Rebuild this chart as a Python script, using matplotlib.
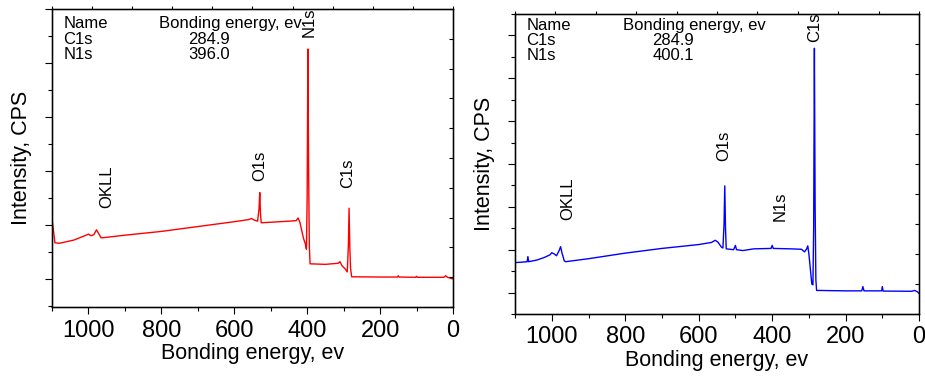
import matplotlib
matplotlib.use("Agg")
import matplotlib.pyplot as plt
from matplotlib.ticker import MultipleLocator, NullFormatter

plt.rcParams['font.family'] = ['Liberation Sans', 'DejaVu Sans']

# spectrum 1 (red): binding energy, intensity (arb. units)
e_red = [1100, 1096, 1092, 1080, 1040, 1010, 1000, 993, 985, 978, 972, 965,
         900, 800, 700, 600, 560, 553, 545, 536, 532, 530, 528, 526,
         500, 450, 430, 425, 420, 410, 405, 402, 400, 398, 396, 394, 392,
         350, 315, 310, 305, 295, 290, 287, 285, 283, 281, 278,
         200, 152, 150, 148, 102, 100, 98, 25, 20, 15, 0]
i_red = [1.11, 0.9, 0.67, 0.66, 0.72, 0.8, 0.83, 0.80, 0.82, 0.91, 0.84, 0.76,
         0.81, 0.88, 0.97, 1.06, 1.10, 1.12, 1.09, 1.07, 1.3, 1.6, 1.2, 1.04,
         1.05, 1.07, 1.08, 1.13, 1.05, 0.75, 0.65, 0.55, 1.5, 4.26, 2.0, 0.6, 0.28,
         0.27, 0.29, 0.32, 0.25, 0.18, 0.13, 0.6, 1.31, 0.6, 0.2, 0.04,
         0.035, 0.035, 0.06, 0.035, 0.03, 0.05, 0.03, 0.03, 0.06, 0.03, 0.0]

# spectrum 2 (blue)
e_blue = [1100, 1080, 1067, 1065, 1063, 1040, 1020, 1005, 1000, 993, 987, 980,
          976, 972, 966, 962, 900, 800, 700, 600, 565, 555, 548, 538, 534,
          531, 529, 527, 525, 505, 500, 497, 480, 450, 403, 400, 397, 350,
          320, 312, 306, 303, 300, 296, 292, 289, 287, 285, 283, 281, 279,
          200, 156, 153, 150, 102, 100, 98, 20, 12, 5, 0]
i_blue = [0.70, 0.71, 0.72, 0.84, 0.72, 0.76, 0.82, 0.88, 0.93, 0.90, 0.86, 0.98,
          1.07, 0.92, 0.74, 0.72, 0.79, 0.92, 1.03, 1.12, 1.17, 1.22, 1.18, 1.06, 1.04,
          1.6, 2.49, 1.5, 1.02, 1.0, 1.1, 1.0, 0.98, 1.02, 1.03, 1.1, 1.03, 1.02,
          1.01, 0.95, 1.02, 1.09, 0.9, 0.55, 0.2, 0.18, 1.5, 5.7, 2.0, 0.3, 0.05,
          0.04, 0.04, 0.14, 0.04, 0.04, 0.14, 0.035, 0.03, 0.05, 0.02, -0.02]

# peak labels: (text, energy, intensity)
labels_red = [("N1s", 395, 4.76), ("O1s", 530, 2.09), ("C1s", 289, 1.96), ("OKLL", 949, 1.70)]
labels_blue = [("C1s", 285, 6.19), ("O1s", 531, 3.42), ("N1s", 379, 2.02), ("OKLL", 957, 2.19)]

# header tables
names = ["C1s", "N1s"]
be_red = ["284.9", "396.0"]
be_blue = ["284.9", "400.1"]

fig = plt.figure(figsize=(9.25, 3.8), dpi=100)
ax1 = fig.add_axes([0.0562, 0.1921, 0.4335, 0.7842])
ax2 = fig.add_axes([0.5568, 0.1737, 0.4368, 0.7895])

FS = 12


def setup(ax, e, i, color, ylim, labels, be, ys):
    ax.plot(e, i, color=color, lw=1.0)
    ax.set_xlim(1100, 0)
    ax.set_ylim(*ylim)
    ax.xaxis.set_major_locator(MultipleLocator(200))
    ax.xaxis.set_minor_locator(MultipleLocator(100))
    ax.yaxis.set_major_locator(MultipleLocator(1))
    ax.yaxis.set_minor_locator(MultipleLocator(0.5))
    ax.yaxis.set_major_formatter(NullFormatter())
    ax.tick_params(axis='x', which='major', direction='out', length=5, width=0.8,
                   labelsize=17, pad=4)
    ax.tick_params(axis='x', which='minor', direction='out', length=3, width=0.8)
    ax.tick_params(axis='y', which='major', direction='out', length=5, width=0.8)
    ax.tick_params(axis='y', which='minor', direction='out', length=3, width=0.8)
    for s in ax.spines.values():
        s.set_linewidth(1.0)
    ax.set_xlabel("Bonding energy, ev", fontsize=15.5, labelpad=1)
    ax.set_ylabel("Intensity, CPS", fontsize=15.5, labelpad=6)

    # extra ticks on top and right edges
    top = ax.twiny()
    top.set_xlim(0, 10)
    top.xaxis.set_major_locator(MultipleLocator(1))
    top.tick_params(axis='x', direction='out', length=2, labeltop=False)
    right = ax.twinx()
    right.set_ylim(0, 10)
    right.yaxis.set_major_locator(MultipleLocator(1))
    right.tick_params(axis='y', direction='in', length=3, labelright=False)

    for txt, x, y in labels:
        ax.text(x, y, txt, rotation=90, ha='center', va='center', fontsize=FS)

    x0, x1, x2 = 0.028, 0.266, 0.34
    ax.text(x0, ys[0], "Name", transform=ax.transAxes, fontsize=FS, va='center')
    ax.text(x1, ys[0], "Bonding energy, ev", transform=ax.transAxes, fontsize=FS, va='center')
    for k in range(len(names)):
        ax.text(x0, ys[k + 1], names[k], transform=ax.transAxes, fontsize=FS, va='center')
        ax.text(x2, ys[k + 1], be[k], transform=ax.transAxes, fontsize=FS, va='center')


setup(ax1, e_red, i_red, '#ff0000', (-0.52, 5.0), labels_red, be_red, [0.953, 0.899, 0.849])
setup(ax2, e_blue, i_blue, '#0000ff', (-0.5, 6.5), labels_blue, be_blue, [0.963, 0.91, 0.863])

fig.savefig("out.png", dpi=100)
